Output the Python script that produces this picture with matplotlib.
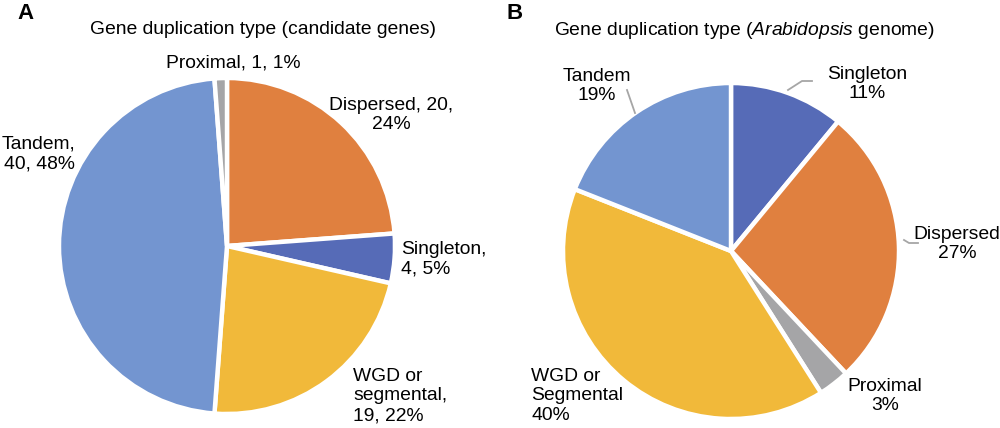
import matplotlib.pyplot as plt

# data
left_names = ['Dispersed', 'Singleton', 'WGD or\nsegmental', 'Tandem', 'Proximal']
left_counts = [20, 4, 19, 40, 1]
left_pcts = [24, 5, 22, 48, 1]

right_names = ['Singleton', 'Dispersed', 'Proximal', 'WGD or\nSegmental', 'Tandem']
right_pcts = [11, 27, 3, 40, 19]

col = {'Dispersed': '#E0803F', 'Singleton': '#566BB7', 'WGD': '#F1B93A',
       'Tandem': '#7395D0', 'Proximal': '#A5A5A7'}


def color_of(name):
    return col[name.split()[0]]


plt.rcParams['font.family'] = ['Liberation Sans', 'DejaVu Sans']
plt.rcParams['mathtext.fontset'] = 'custom'
plt.rcParams['mathtext.it'] = 'Liberation Sans:italic'
plt.rcParams['mathtext.rm'] = 'Liberation Sans'

W, H = 1000, 428
fig = plt.figure(figsize=(10, 4.28), dpi=100)
ax = fig.add_axes([0, 0, 1, 1])

wp = dict(edgecolor='white', linewidth=3.2)
ax.pie(left_counts, colors=[color_of(n) for n in left_names], startangle=90,
       counterclock=False, center=(227, H - 246), radius=168, wedgeprops=wp)
ax.pie(right_pcts, colors=[color_of(n) for n in right_names], startangle=90,
       counterclock=False, center=(731, H - 251), radius=168, wedgeprops=wp)
ax.set_xlim(0, W)
ax.set_ylim(0, H)
ax.set_aspect('auto')
ax.axis('off')


def txt(x, y, s, ha='center', size=13.9, **kw):
    ax.text(x, H - y, s, ha=ha, va='center', fontsize=size, linespacing=1.2, **kw)


# panel letters and titles
txt(25, 13, 'A', size=16, fontweight='bold')
txt(515, 13, 'B', size=16, fontweight='bold')
txt(263, 29, 'Gene duplication type (candidate genes)')
txt(744, 30, r'Gene duplication type ($\it{Arabidopsis}$ genome)')

# left labels
L = {n.split()[0]: (n, c, p) for n, c, p in zip(left_names, left_counts, left_pcts)}
n, c, p = L['Proximal']
txt(233, 63, f'{n}, {c}, {p}%')
n, c, p = L['Dispersed']
txt(391, 115, f'{n}, {c},\n{p}%')
n, c, p = L['Singleton']
txt(401, 259, f'{n},\n{c}, {p}%', ha='left')
n, c, p = L['WGD']
txt(353, 396, f'{n},\n{c}, {p}%', ha='left')
n, c, p = L['Tandem']
txt(75, 154, f'{n},\n{c}, {p}%', ha='right')

# right labels
R = {n.split()[0]: (n, p) for n, p in zip(right_names, right_pcts)}
n, p = R['Tandem']
txt(597, 86, f'{n}\n{p}%')
n, p = R['Singleton']
txt(867, 84, f'{n}\n{p}%')
n, p = R['Dispersed']
txt(957, 244, f'{n}\n{p}%')
n, p = R['WGD']
txt(531, 396, f'{n}\n{p}%', ha='left')
n, p = R['Proximal']
txt(885, 396, f'{n}\n{p}%')

# leader lines
lc = '#A6A6A6'
ax.plot([627, 635], [H - 90, H - 113], color=lc, lw=1.3)
ax.plot([788, 802, 812], [H - 90, H - 81, H - 81], color=lc, lw=1.3)
ax.plot([904, 909, 918], [H - 240, H - 243, H - 243], color=lc, lw=1.3)

fig.savefig('out.png', dpi=100)
